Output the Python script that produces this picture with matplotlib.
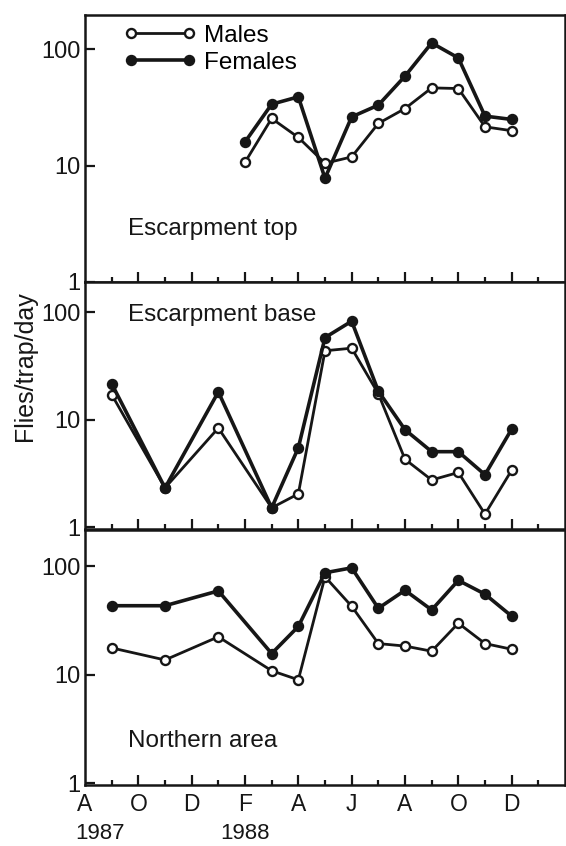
import numpy as np
import matplotlib
matplotlib.use("Agg")
import matplotlib.pyplot as plt
import matplotlib.transforms as mtransforms
from matplotlib.ticker import FixedLocator, NullFormatter, NullLocator

plt.rcParams['font.family'] = ['Liberation Sans', 'DejaVu Sans']

# months counted from Aug 1987 (0)
months_top = [6, 7, 8, 9, 10, 11, 12, 13, 14, 15, 16]
top_males = [10.7, 25.5, 17.5, 10.5, 11.9, 23.1, 31.0, 46.7, 46.1, 21.6, 20.0]
top_females = [16.0, 33.8, 39.1, 7.8, 26.3, 33.2, 58.9, 113.7, 84.5, 26.7, 25.0]

months = [1, 3, 5, 7, 8, 9, 10, 11, 12, 13, 14, 15, 16]
base_males = [17.2, 2.33, 8.4, 1.52, 2.05, 43.9, 46.4, 17.5, 4.3, 2.76, 3.24, 1.33, 3.4]
base_females = [21.7, 2.33, 18.2, 1.52, 5.5, 58.2, 82.7, 18.5, 8.1, 5.06, 5.06, 3.09, 8.2]

north_males = [17.7, 13.7, 22.4, 10.9, 9.0, 80.0, 42.8, 19.4, 18.4, 16.5, 29.9, 19.4, 17.2]
north_females = [43.3, 43.3, 59.3, 15.7, 27.9, 87.1, 96.7, 41.0, 60.1, 39.6, 74.1, 55.3, 34.7]

month_ticks = [0, 2, 4, 6, 8, 10, 12, 14, 16]
month_labels = ["A", "O", "D", "F", "A", "J", "A", "O", "D"]
years = [(0, "1987"), (6, "1988")]

panels = [
    ("Escarpment top", months_top, top_males, top_females, (1, 10 ** 2.296), 229),
    ("Escarpment base", months, base_males, base_females, (10 ** -0.015, 10 ** 2.282), 315),
    ("Northern area", months, north_males, north_females, (10 ** -0.015, 10 ** 2.334), 741),
]

W, H = 566, 846
ink = "#161616"
fig = plt.figure(figsize=(W / 100, H / 100), dpi=100)

# pixel boxes (top, bottom) of the three panels
boxes = [(15, 282), (282, 529), (530, 785)]
left_px, right_px = 85, 565

axes = []
for (name, xs, males, females, ylim, label_y), (top, bot) in zip(panels, boxes):
    ax = fig.add_axes([left_px / W, 1 - bot / H, (right_px - left_px) / W, (bot - top) / H])
    ax.plot(xs, males, color=ink, lw=2.0, marker="o", ms=6.5, mfc="white", mec=ink, mew=1.7,
            label="Males", zorder=3)
    ax.plot(xs, females, color=ink, lw=2.6, marker="o", ms=7.2, mfc=ink, mec=ink,
            label="Females", zorder=4)
    ax.set_yscale("log")
    ax.set_ylim(*ylim)
    ax.set_xlim(0, 18)
    ax.yaxis.set_major_locator(FixedLocator([1, 10, 100]))
    ax.yaxis.set_minor_locator(NullLocator())
    ax.set_yticklabels(["1", "10", "100"])
    ax.xaxis.set_major_locator(FixedLocator(month_ticks[1:]))
    ax.xaxis.set_minor_locator(FixedLocator(list(range(1, 18, 2))))
    ax.tick_params(axis="y", direction="in", length=7, width=1.6, labelsize=17, pad=3, colors=ink)
    ax.tick_params(axis="x", which="major", direction="in", length=7, width=1.6, colors=ink)
    ax.tick_params(axis="x", which="minor", direction="in", length=3.5, width=1.6, colors=ink)
    ax.xaxis.set_major_formatter(NullFormatter())
    for s in ax.spines.values():
        s.set_linewidth(1.8)
        s.set_color(ink)
    # panel name
    ax.text((128 - left_px) / (right_px - left_px), 1 - (label_y - top) / (bot - top), name,
            transform=ax.transAxes, fontsize=17.5, va="center", ha="left", color=ink)
    axes.append(ax)

# legend in top panel
axes[0].legend(loc="upper left", numpoints=2, frameon=False, fontsize=17.5, handlelength=3.0,
               handletextpad=0.3, labelspacing=0.2, borderaxespad=0.0, bbox_to_anchor=(0.06, 1.0))

# month labels on the bottom panel
bottom = axes[2]
bottom.set_xticks(month_ticks)
bottom.set_xticklabels(month_labels)
bottom.xaxis.set_minor_locator(FixedLocator(list(range(1, 18, 2))))
bottom.tick_params(axis="x", which="major", labelsize=16.5, pad=6)
for tick in bottom.xaxis.get_major_ticks()[:1]:
    tick.tick1line.set_visible(False)

trans = mtransforms.blended_transform_factory(bottom.transData, bottom.transAxes)
for xm, yr in years:
    off = -7 if xm == 0 else 0
    bottom.annotate(yr, xy=(xm, 0), xycoords=trans, xytext=(off, -35), textcoords="offset points",
                    ha="left" if xm == 0 else "center", va="center", fontsize=16, color=ink)

fig.text(25 / W, 1 - 366 / H, "Flies/trap/day", rotation=90, ha="center", va="center",
         fontsize=18, color=ink)

fig.savefig("out.png", dpi=100, facecolor="white")
